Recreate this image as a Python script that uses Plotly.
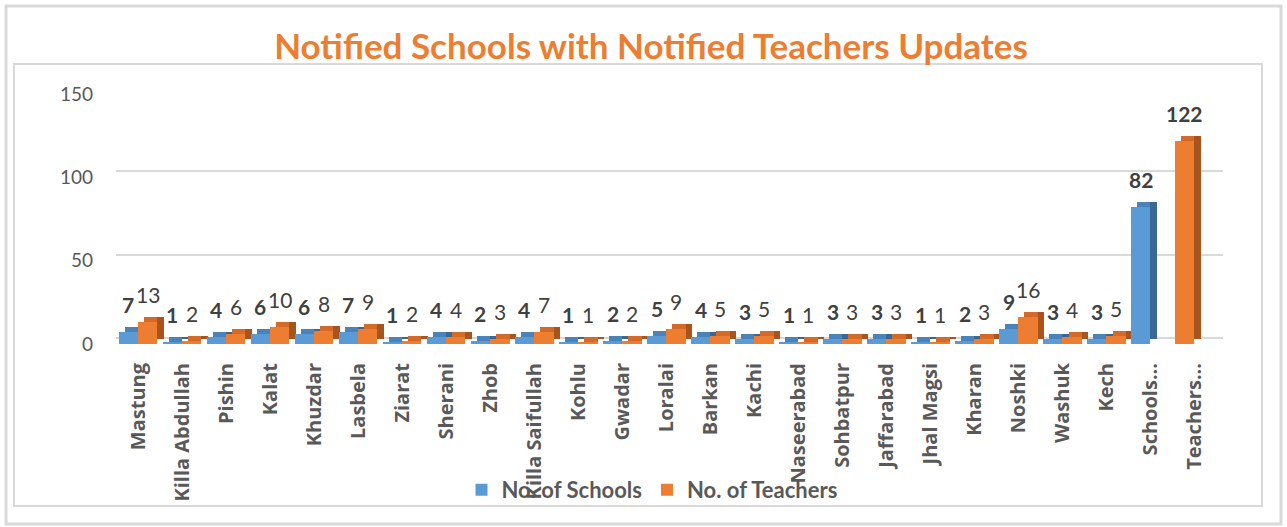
import plotly.graph_objects as go

# ---------------- data ----------------
categories = ["Mastung", "Killa Abdullah", "Pishin", "Kalat", "Khuzdar", "Lasbela",
              "Ziarat", "Sherani", "Zhob", "Killa Saifullah", "Kohlu", "Gwadar",
              "Loralai", "Barkan", "Kachi", "Naseerabad", "Sohbatpur", "Jaffarabad",
              "Jhal Magsi", "Kharan", "Noshki", "Washuk", "Kech", "Schools...",
              "Teachers..."]
schools = [7, 1, 4, 6, 6, 7, 1, 4, 2, 4, 1, 2, 5, 4, 3, 1, 3, 3, 1, 2, 9, 3, 3, 82, None]
teachers = [13, 2, 6, 10, 8, 9, 2, 4, 3, 7, 1, 2, 9, 5, 5, 1, 3, 3, 1, 3, 16, 4, 5, None, 122]
y_ticks = [0, 50, 100, 150]

# ---------------- style ----------------
W = 0.44      # bar width (category units)
DX = 0.14     # 3-D depth, horizontal (category units)
DY = 3.0      # 3-D depth, vertical (value units)
WALL = 3.6    # back-wall (gridline) depth offset, value units
BLUE = dict(front="#5B9BD5", top="#4A83BA", side="#3A6894")
ORANGE = dict(front="#ED7D31", top="#D36A27", side="#A9541D")
LABEL_COLOR = "#404040"
AXIS_COLOR = "#595959"
GRID = "#D9D9D9"

idx = list(range(len(categories)))
blue_slot = [-W for _ in idx]
orange_slot = [(0.0 if s is not None else -W) for s in schools]

fig = go.Figure()


def add_layer(values, slots, colors, name, layer):
    xs, ys, bases, offs, wid = [], [], [], [], []
    for i, v, o in zip(idx, values, slots):
        if v is None:
            continue
        xs.append(i)
        if layer == "side":
            ys.append(v); bases.append(DY); offs.append(o + DX); wid.append(W)
        elif layer == "top":
            ys.append(DY); bases.append(v); offs.append(o + DX); wid.append(W - DX)
        else:
            ys.append(v); bases.append(0); offs.append(o); wid.append(W)
    fig.add_trace(go.Bar(
        x=xs, y=ys, base=bases, offset=offs, width=wid,
        marker=dict(color=colors[layer], line=dict(width=0)),
        name=name, showlegend=(layer == "front"),
        hoverinfo="skip" if layer != "front" else None,
    ))


for layer in ["side", "top", "front"]:
    add_layer(schools, blue_slot, BLUE, "No. of Schools", layer)
    add_layer(teachers, orange_slot, ORANGE, "No. of Teachers", layer)

# data labels
annotations = []
for i, v, o in zip(idx, schools, blue_slot):
    if v is None:
        continue
    annotations.append(dict(x=i + o + W / 2, y=v, xref="x", yref="y", text=f"<b>{v}</b>",
                            showarrow=False, yanchor="bottom", yshift=13,
                            font=dict(family="Lato", size=21, color=LABEL_COLOR)))
for i, v, o, s in zip(idx, teachers, orange_slot, schools):
    if v is None:
        continue
    txt = f"<b>{v}</b>" if s is None else f"{v}"
    annotations.append(dict(x=i + o + W / 2, y=v, xref="x", yref="y", text=txt,
                            showarrow=False, yanchor="bottom", yshift=13,
                            font=dict(family="Lato", size=21, color=LABEL_COLOR)))

# frame geometry (pixels -> paper)
L, R, T, B = 116, 64, 94, 183
FW, FH = 1287, 527
PW, PH = FW - L - R, FH - T - B


def px_x(p):
    return (p - L) / PW


def px_y(p):
    return (FH - B - p) / PH


shapes = [
    dict(type="rect", xref="paper", yref="paper", x0=px_x(6), x1=px_x(1281),
         y0=px_y(524), y1=px_y(6), line=dict(color="#D9D9D9", width=3), layer="below"),
    dict(type="rect", xref="paper", yref="paper", x0=px_x(14), x1=px_x(1262),
         y0=px_y(506), y1=px_y(64), line=dict(color="#D9D9D9", width=2), layer="below"),
]

y_min, y_max = min(y_ticks), max(y_ticks)

fig.update_layout(
    width=FW, height=FH,
    margin=dict(l=L, r=R, t=T, b=B, autoexpand=False),
    paper_bgcolor="white", plot_bgcolor="white",
    barmode="overlay", bargap=0,
    title=dict(text="<b>Notified Schools with Notified Teachers Updates</b>",
               x=px_x(651), xref="paper", xanchor="center", y=1 - 47 / FH, yanchor="middle",
               font=dict(family="Lato", size=35, color="#ED7D31")),
    xaxis=dict(range=[-0.5, 24.65], tickmode="array", tickvals=idx,
               ticktext=[f"<b>{c}</b>" for c in categories], tickangle=-90,
               tickfont=dict(family="Open Sans", size=20, color=AXIS_COLOR),
               showgrid=False, zeroline=False, showline=False, ticks="",
               ticklabelstandoff=14, automargin=False),
    yaxis=dict(range=[y_min, y_max], tickvals=y_ticks, showgrid=False,
               zeroline=False, showline=False, ticks="",
               tickfont=dict(family="Lato", size=19, color=AXIS_COLOR),
               ticklabelstandoff=22, automargin=False),
    yaxis2=dict(range=[y_min - WALL, y_max - WALL], overlaying="y", tickvals=y_ticks,
                showgrid=True, gridcolor=GRID, gridwidth=2, showticklabels=False,
                zeroline=False, showline=False, ticks="", automargin=False),
    legend=dict(orientation="h", x=px_x(652), xanchor="center", y=px_y(490),
                yanchor="middle",
                font=dict(family="Lato", size=22, color=AXIS_COLOR, weight="bold"),
                bgcolor="rgba(0,0,0,0)", traceorder="normal", itemwidth=30),
    annotations=annotations,
    shapes=shapes,
    showlegend=True,
)

# invisible trace to activate the back-wall gridline axis
fig.add_trace(go.Scatter(x=[idx[0]], y=[y_min], yaxis="y2", mode="markers",
                         marker=dict(opacity=0), showlegend=False, hoverinfo="skip"))

fig.write_html("out.html", post_script="document.body.style.margin='0';",
               config={"displayModeBar": False})
